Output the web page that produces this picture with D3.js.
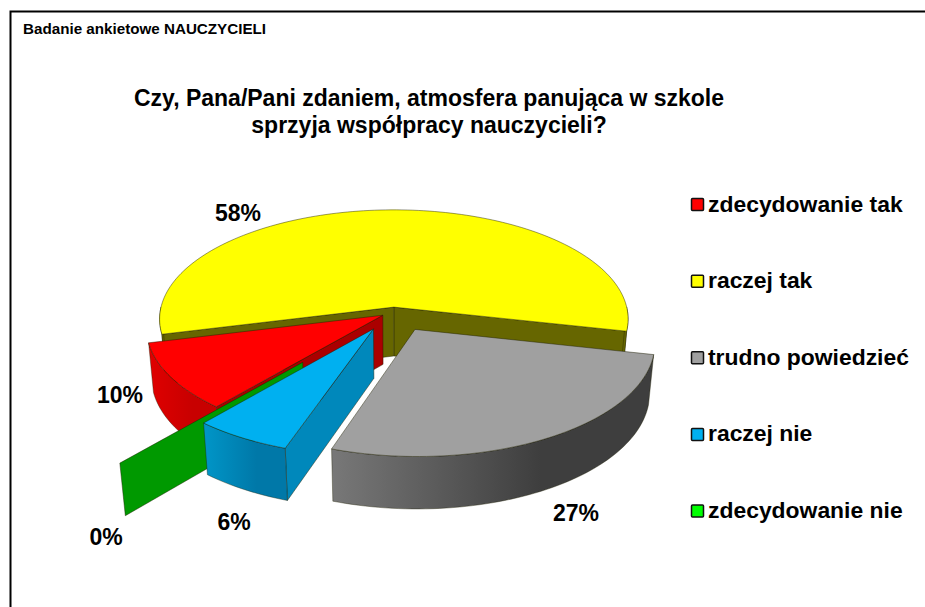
<!DOCTYPE html>
<html><head><meta charset="utf-8">
<script src="https://cdnjs.cloudflare.com/ajax/libs/d3/7.8.5/d3.min.js"></script>
<style>html,body{margin:0;padding:0;background:#fff}svg{display:block}text{font-family:"Liberation Sans",Arial,sans-serif;font-weight:bold;fill:#000}</style>
</head><body><svg id="c" width="925" height="607"></svg>
<script>
const categories = ["zdecydowanie tak","raczej tak","trudno powiedzieć","raczej nie","zdecydowanie nie"];
const values = [10,58,27,6,0];
const valueLabels = ["10%","58%","27%","6%","0%"];
const topColors = ["#ff0000","#ffff00","#a0a0a0","#00b0f0","#00ff00"];
const cutColors = ["#aa0000","#666600","#666666","#0088bb","#009900"];
const wallStops = [["#e00000","#c80000"],["#666600","#666600"],["#787878","#3e3e3e"],["#0096c8","#0078a8"],["#009900","#009900"]];
const explode = [0.056,0.045,0.18,0.175,0.575];
const drawOrder = [1,0,4,3,2];
const labelAt = [[120,395],[238,213],[576,513],[234,522],[106,537]];
const titleLines = ["Czy, Pana/Pani zdaniem, atmosfera panująca w szkole","sprzyja współpracy nauczycieli?"];
const header = "Badanie ankietowe NAUCZYCIELI";

const svg = d3.select("#c");
const defs = svg.append("defs");
const cx=394, cy=312, R=234, Ry=109, persp=0.11, H=49, startDeg=220.2;
const rad=d3.scaleLinear().domain([0,360]).range([0,2*Math.PI]);
const pie=d3.pie().sort(null).value(d=>d).startAngle(rad(startDeg)).endAngle(rad(startDeg+360));
const arcs=pie(values);

function proj(u,v){const s=1/(1-persp*v);return [cx+R*u*s,cy+Ry*v*s,s];}
function topPt(a,i,r=1){const m=(arcs[i].startAngle+arcs[i].endAngle)/2,e=explode[i];
  const p=proj(e*Math.sin(m)+r*Math.sin(a),-e*Math.cos(m)-r*Math.cos(a));return [p[0],p[1]];}
function botPt(a,i,r=1){const m=(arcs[i].startAngle+arcs[i].endAngle)/2,e=explode[i];
  const p=proj(e*Math.sin(m)+r*Math.sin(a),-e*Math.cos(m)-r*Math.cos(a));
  return [cx+(p[0]-cx)*0.98,p[1]+H*Math.sqrt(p[2])];}
const line=d3.line();
const edge="rgba(30,30,0,.75)";
function arcAngles(a,b){const n=Math.max(2,Math.ceil((b-a)/rad(1.5)));return d3.range(n+1).map(k=>a+(b-a)*k/n);}

drawOrder.forEach(i=>{
  const a=arcs[i].startAngle,b=arcs[i].endAngle,g=svg.append("g");
  const cut=(t)=>g.append("path").attr("d",line([topPt(t,i,0),topPt(t,i),botPt(t,i),botPt(t,i,0)])+"Z")
     .attr("fill",cutColors[i]).attr("stroke",edge).attr("stroke-width",.6);
  if(Math.sin(b)>0 && b>a) cut(b);
  if(Math.sin(a)<0) cut(a);
  // outer wall: only the near half of the rim faces the viewer
  const segs=[];
  for(let k=0;k<3;k++){const lo=rad(90+360*k),hi=rad(270+360*k);const s=Math.max(a,lo),e=Math.min(b,hi);if(e>s)segs.push([s,e]);}
  segs.forEach((sg,n)=>{
    const as=arcAngles(sg[0],sg[1]);
    const up=as.map(t=>topPt(t,i)),dn=as.map(t=>botPt(t,i)).reverse();
    const xs=up.map(p=>p[0]),id=`w${i}_${n}`;
    const lg=defs.append("linearGradient").attr("id",id).attr("gradientUnits","userSpaceOnUse")
      .attr("x1",d3.min(xs)).attr("x2",d3.max(xs)).attr("y1",0).attr("y2",0);
    lg.append("stop").attr("offset",0).attr("stop-color",wallStops[i][0]);
    lg.append("stop").attr("offset",.65).attr("stop-color",wallStops[i][1]);
    lg.append("stop").attr("offset",1).attr("stop-color",wallStops[i][1]);
    g.append("path").attr("d",line(up.concat(dn))+"Z").attr("fill",`url(#${id})`).attr("stroke",edge).attr("stroke-width",.5);
  });
  if(b>a){
    const pts=[topPt(a,i,0)].concat(arcAngles(a,b).map(t=>topPt(t,i)));
    g.append("path").attr("d",line(pts)+"Z").attr("fill",topColors[i]).attr("stroke",edge).attr("stroke-width",.6);
  }
});

// frame
svg.append("path").attr("d","M925,11.5H10.5V607").attr("fill","none").attr("stroke","#000").attr("stroke-width",2);
svg.append("text").attr("x",23).attr("y",34).attr("font-size",15.2).text(header);
titleLines.forEach((t,i)=>svg.append("text").attr("x",429).attr("y",106+i*27).attr("text-anchor","middle").attr("font-size",23).text(t));
valueLabels.forEach((t,i)=>svg.append("text").attr("x",labelAt[i][0]).attr("y",labelAt[i][1]+8).attr("text-anchor","middle").attr("font-size",23).text(t));
const ly=d3.scalePoint().domain(categories).range([204.5,511]);
categories.forEach((c,i)=>{
  svg.append("rect").attr("x",691.5).attr("y",ly(c)-6).attr("width",12).attr("height",12).attr("rx",1).attr("fill",topColors[i]).attr("stroke","#111").attr("stroke-width",1.5);
  svg.append("text").attr("x",708).attr("y",ly(c)+7).attr("font-size",22.9).text(c);
});
</script></body></html>
